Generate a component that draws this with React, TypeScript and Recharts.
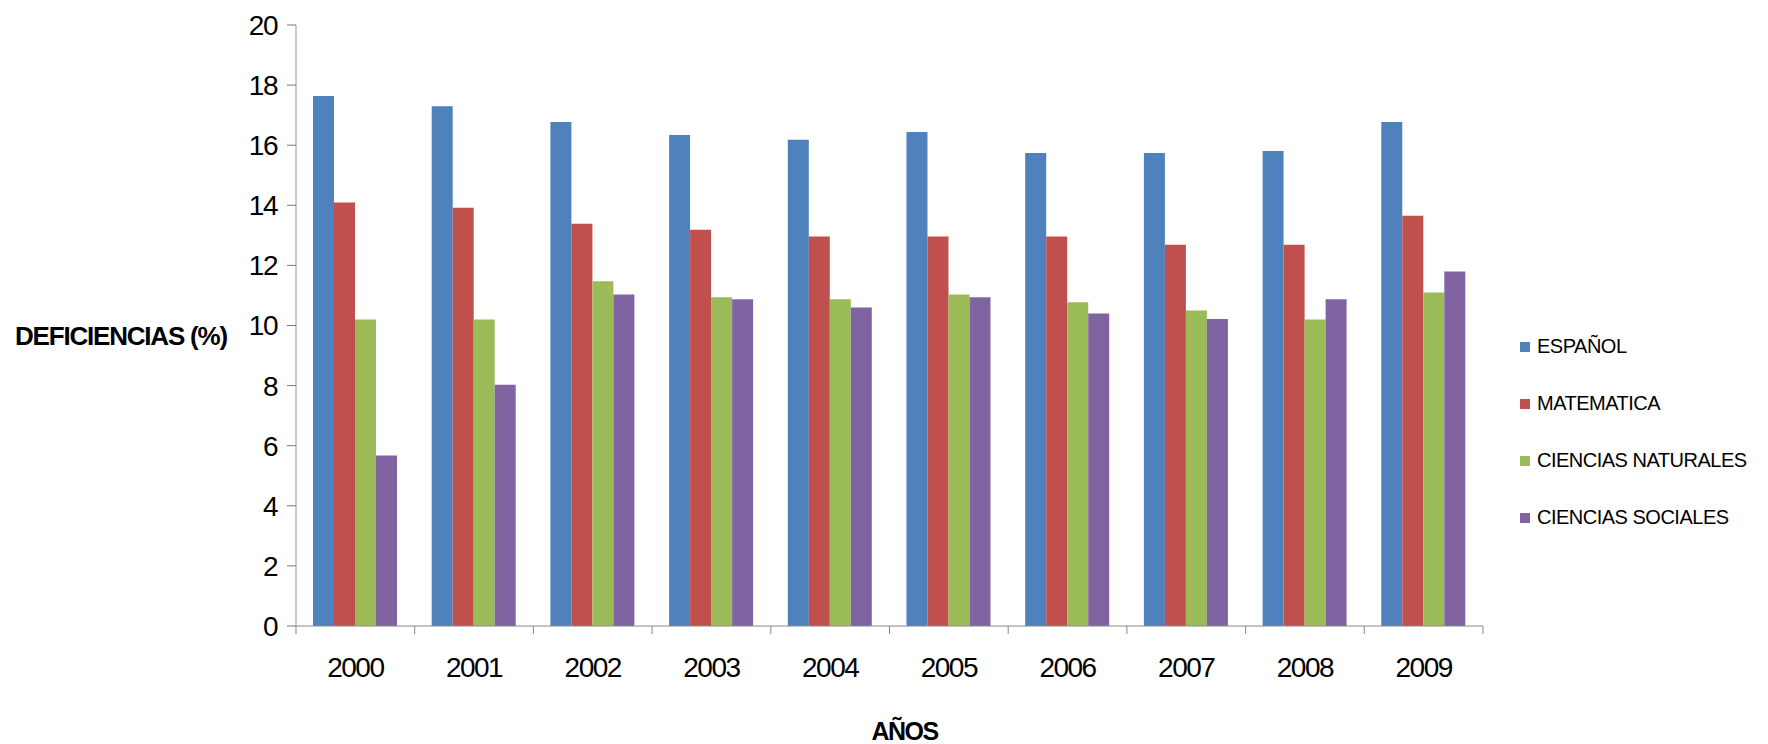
import React from "react";
import { Bar, BarChart, Label, Legend, XAxis, YAxis } from "recharts";

const years = ["2000", "2001", "2002", "2003", "2004", "2005", "2006", "2007", "2008", "2009"];
const espanol = [17.64, 17.3, 16.77, 16.34, 16.18, 16.44, 15.74, 15.74, 15.81, 16.77];
const matematica = [14.09, 13.92, 13.39, 13.19, 12.96, 12.96, 12.96, 12.69, 12.69, 13.65];
const naturales = [10.2, 10.2, 11.47, 10.94, 10.87, 11.03, 10.77, 10.5, 10.2, 11.1];
const sociales = [5.67, 8.03, 11.03, 10.87, 10.6, 10.94, 10.4, 10.22, 10.87, 11.8];
const yTicks = [0, 2, 4, 6, 8, 10, 12, 14, 16, 18, 20];

const series = [
  { key: "ESPAÑOL", values: espanol, color: "#4F81BD" },
  { key: "MATEMATICA", values: matematica, color: "#C0504D" },
  { key: "CIENCIAS NATURALES", values: naturales, color: "#9BBB59" },
  { key: "CIENCIAS SOCIALES", values: sociales, color: "#8064A2" },
];

const data = years.map((year, i) => {
  const row: Record<string, string | number> = { year };
  series.forEach((s) => (row[s.key] = s.values[i]));
  return row;
});

const FONT = "'Liberation Sans', Arial, sans-serif";
const W = 1768;
const H = 744;
const margin = { top: 25, right: 285, bottom: 58, left: 8 };
const plotLeft = 296;
const band = (W - margin.right - plotLeft) / years.length;

function YearTick(props: any) {
  const { x, y, payload, index } = props;
  const left = x - band / 2;
  return (
    <g>
      <line x1={left} y1={y - 8} x2={left} y2={y} stroke="#888" />
      {index === years.length - 1 && (
        <line x1={x + band / 2} y1={y - 8} x2={x + band / 2} y2={y} stroke="#888" />
      )}
      <text
        x={x}
        y={y + 33}
        textAnchor="middle"
        dominantBaseline="central"
        fontFamily={FONT}
        fontSize={28}
        letterSpacing={-1.5}
        fill="#000"
      >
        {payload.value}
      </text>
    </g>
  );
}

function LegendBox() {
  return (
    <div style={{ fontFamily: FONT }}>
      {series.map((s) => (
        <div key={s.key} style={{ display: "flex", alignItems: "center", height: 57 }}>
          <span style={{ width: 10, height: 10, background: s.color, display: "inline-block", marginRight: 7 }} />
          <span style={{ fontSize: 20, letterSpacing: -0.5, color: "#000" }}>{s.key}</span>
        </div>
      ))}
    </div>
  );
}

export default function App() {
  return (
    <div style={{ width: W, height: H, background: "#fff" }}>
      <style>{`body{margin:0}`}</style>
      <BarChart width={W} height={H} data={data} margin={margin} barGap={0} barCategoryGap={17}>
        <XAxis
          dataKey="year"
          stroke="#888"
          tickLine={false}
          tick={<YearTick />}
          height={60}
          interval={0}
        >
          <Label
            content={(p: any) => (
              <text
                x={p.viewBox.x + p.viewBox.width / 2 + 15}
                y={731}
                textAnchor="middle"
                dominantBaseline="central"
                fontFamily={FONT}
                fontWeight="bold"
                fontSize={25}
                letterSpacing={-1.5}
                fill="#000"
              >
                AÑOS
              </text>
            )}
          />
        </XAxis>
        <YAxis
          domain={[0, 20]}
          ticks={yTicks}
          interval={0}
          width={plotLeft - margin.left}
          stroke="#999"
          tickSize={9}
          tickMargin={10}
          tickLine={{ stroke: "#777" }}
          tick={{ fontFamily: FONT, fontSize: 28, fill: "#000", letterSpacing: -1.5 }}
        >
          <Label
            content={(p: any) => (
              <text
                x={15}
                y={p.viewBox.y + p.viewBox.height / 2 + 10}
                textAnchor="start"
                dominantBaseline="central"
                fontFamily={FONT}
                fontWeight="bold"
                fontSize={26}
                letterSpacing={-1.2}
                fill="#000"
              >
                DEFICIENCIAS (%)
              </text>
            )}
          />
        </YAxis>
        <Legend
          layout="vertical"
          align="center"
          verticalAlign="middle"
          content={<LegendBox />}
          wrapperStyle={{ position: "absolute", left: 1520, top: 318, width: 248 }}
        />
        {series.map((s) => (
          <Bar key={s.key} dataKey={s.key} fill={s.color} isAnimationActive={false} />
        ))}
      </BarChart>
    </div>
  );
}
